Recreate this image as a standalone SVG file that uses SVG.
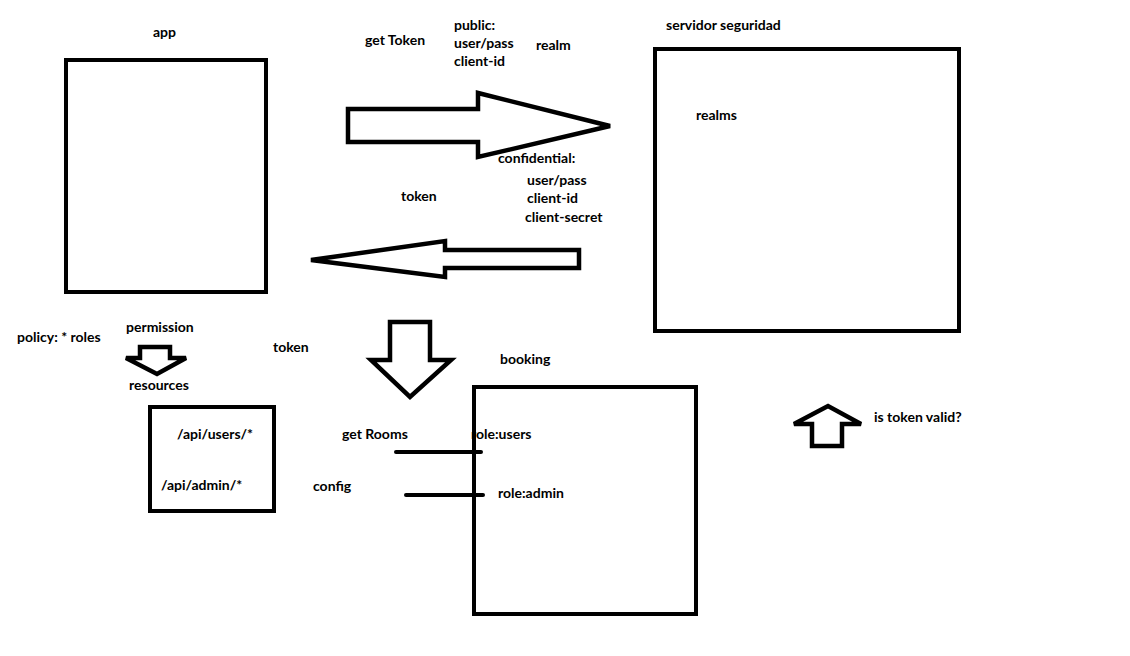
<svg xmlns="http://www.w3.org/2000/svg" width="1130" height="656" viewBox="0 0 1130 656">
<style>
text{font-family:Lato,"Liberation Sans",sans-serif;font-weight:bold;font-size:14px;fill:#000}
.box{fill:#fff;stroke:#000;stroke-width:4}
.arr{fill:#fff;stroke:#000;stroke-width:4.5;stroke-linejoin:miter}
.ln{stroke:#000;stroke-width:4;stroke-linecap:round;fill:none}
</style>
<rect width="1130" height="656" fill="#fff"/>
<g id="app">
<rect class="box" x="66" y="60" width="200" height="232"/>
<text x="153" y="37">app</text>
</g>
<g id="servidor">
<rect class="box" x="655" y="49" width="304" height="282"/>
<text x="666" y="30">servidor seguridad</text>
<text x="696" y="120">realms</text>
</g>
<g id="booking">
<rect class="box" x="474" y="387" width="222" height="227"/>
<text x="500" y="364">booking</text>
<text x="471" y="439">role:users</text>
<text x="498" y="498">role:admin</text>
</g>
<g id="resources">
<rect class="box" x="150" y="407" width="124" height="104"/>
<text x="129" y="390">resources</text>
<text x="177" y="439">/api/users/*</text>
<text x="161" y="490">/api/admin/*</text>
</g>
<g id="connectors">
<polygon class="arr" points="348,109 478,109 478,93 610,126 478,157 478,142 348,142"/>
<polygon class="arr" points="579,250 445,250 445,241 311,260 445,277 445,268 579,268"/>
<polygon class="arr" points="390,322 430,322 430,360 451,360 410,397 371,360 390,360"/>
<polygon class="arr" points="140,347 170,347 170,358 186,358 157,374 126,358 140,358"/>
<polygon class="arr" points="812,446 842,446 842,424 861,424 828,406 794,424 812,424"/>
<line class="ln" x1="396" y1="452" x2="481" y2="452"/>
<line class="ln" x1="406" y1="495" x2="483" y2="495"/>
</g>
<g id="labels">
<text x="365" y="45">get Token</text>
<text x="454" y="30">public:</text>
<text x="454" y="48">user/pass</text>
<text x="454" y="66">client-id</text>
<text x="536" y="50">realm</text>
<text x="498" y="163">confidential:</text>
<text x="527" y="185">user/pass</text>
<text x="527" y="203">client-id</text>
<text x="525" y="222">client-secret</text>
<text x="401" y="201">token</text>
<text x="17" y="342">policy: * roles</text>
<text x="126" y="332">permission</text>
<text x="273" y="352">token</text>
<text x="342" y="439">get Rooms</text>
<text x="313" y="491">config</text>
<text x="874" y="422">is token valid?</text>
</g>
</svg>
